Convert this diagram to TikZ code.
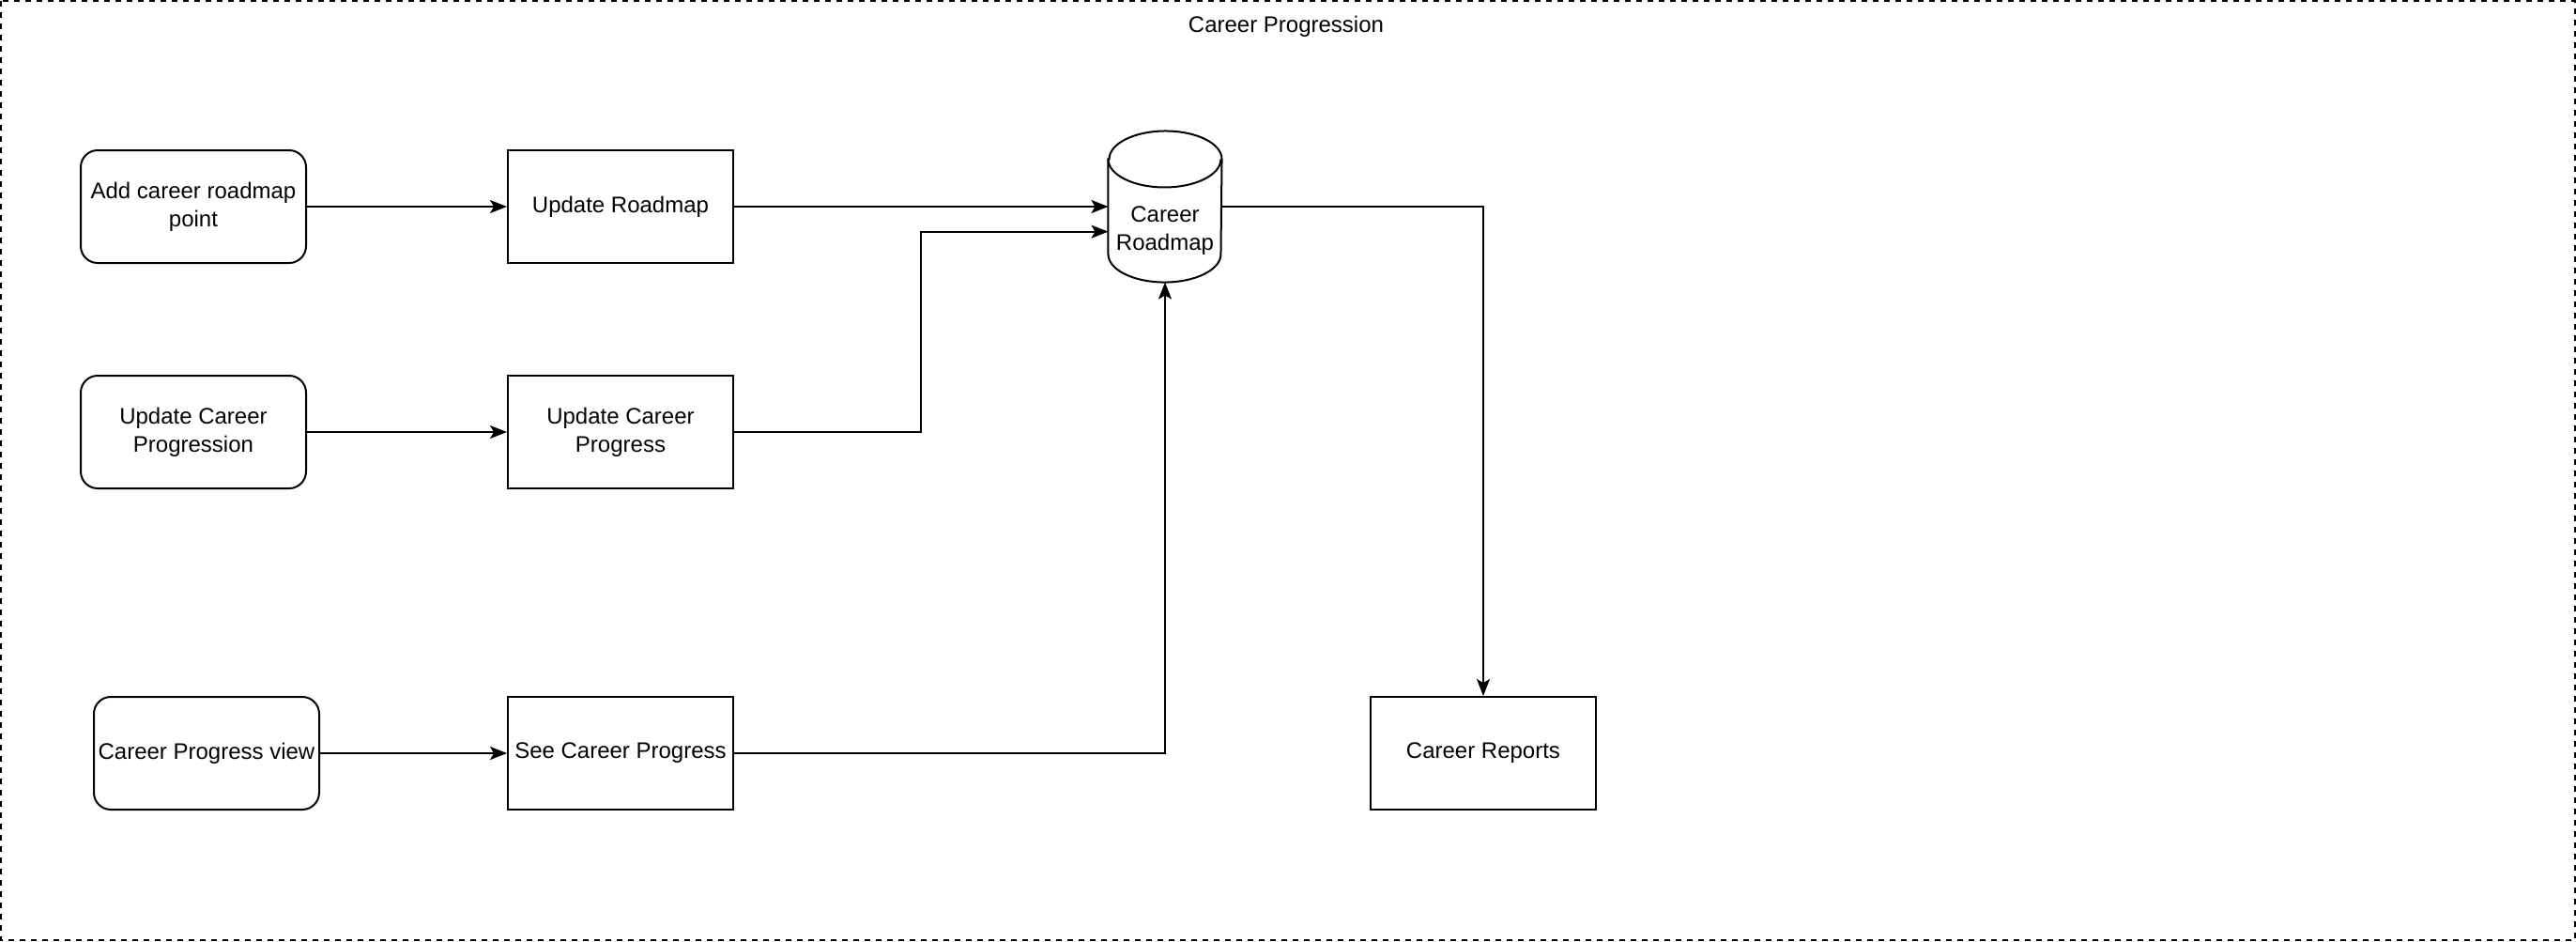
\documentclass[tikz,border=0pt]{standalone}
\usepackage{fontspec}
\setmainfont{Liberation Sans}
\usetikzlibrary{arrows.meta,calc}
\newcommand*{\wMax}{1372}
\newcommand*{\hMax}{501}

\tikzset{
	every node/.style={font=\fontsize{9}{11.25}\selectfont, align=center},
	proc/.style={draw, line width=0.75pt, minimum width=90pt, minimum height=45pt, inner sep=1pt},
	actor/.style={proc, rounded corners=6.75pt},
	dbbox/.style={minimum width=45pt, minimum height=60pt, inner sep=0pt},
	flow/.style={line width=0.75pt, -{Stealth[length=6.75pt,width=5.25pt,inset=1.5pt]}},
}

\begin{document}
\begin{tikzpicture}[x=0.75pt,y=-0.75pt]
	\useasboundingbox (0,0) rectangle (\wMax,\hMax);
	\draw[line width=0.75pt, dash pattern=on 2.25pt off 2.25pt] (0.5,0.5) rectangle (\wMax-0.5,\hMax-0.5);
	\node (title) at (685,14) {Career Progression};

	% left column
	\node[actor] (addpt) at (103,110) {Add career roadmap\\point};
	\node[actor] (updcp) at (103,230) {Update Career\\Progression};
	\node[actor] (cpview) at (110,401) {Career Progress view};

	% processes
	\node[proc] (updroad) at (330.5,110) {Update Roadmap};
	\node[proc] (updprog) at (330.5,230) {Update Career\\Progress};
	\node[proc] (seecp) at (330.5,401) {See Career Progress};
	\node[proc] (reports) at (790,401) {Career Reports};

	% data store
	\node[dbbox] (roadmap) at (620.5,110) {};
	\draw[line width=0.75pt, fill=white] ([yshift=-11.25pt]roadmap.north west) -- ([yshift=11.25pt]roadmap.south west) arc[start angle=180, end angle=360, x radius=22.5pt, y radius=11.25pt] -- ([yshift=-11.25pt]roadmap.north east) arc[start angle=0, end angle=180, x radius=22.5pt, y radius=11.25pt] -- cycle;
	\draw[line width=0.75pt] ([yshift=-11.25pt]roadmap.north west) arc[start angle=180, end angle=360, x radius=22.5pt, y radius=11.25pt];
	\node (roadtxt) at ([yshift=-9.75pt]roadmap.center) {Career\\Roadmap};

	% connectors
	\foreach \a/\b in {addpt/updroad,updcp/updprog,cpview/seecp}
		\draw[flow] (\a.east) -- (\b.west);
	\draw[flow] (updroad.east) -- (updroad.east -| roadmap.west);
	\coordinate (rin) at ([yshift=-10pt]roadmap.west);
	\draw[flow] (updprog.east) -| ($(updprog.east)!0.5!(rin)$) |- (rin);
	\draw[flow] (seecp.east) -| (roadmap.south);
	\draw[flow] (roadmap.east) -| (reports.north);
\end{tikzpicture}
\end{document}
